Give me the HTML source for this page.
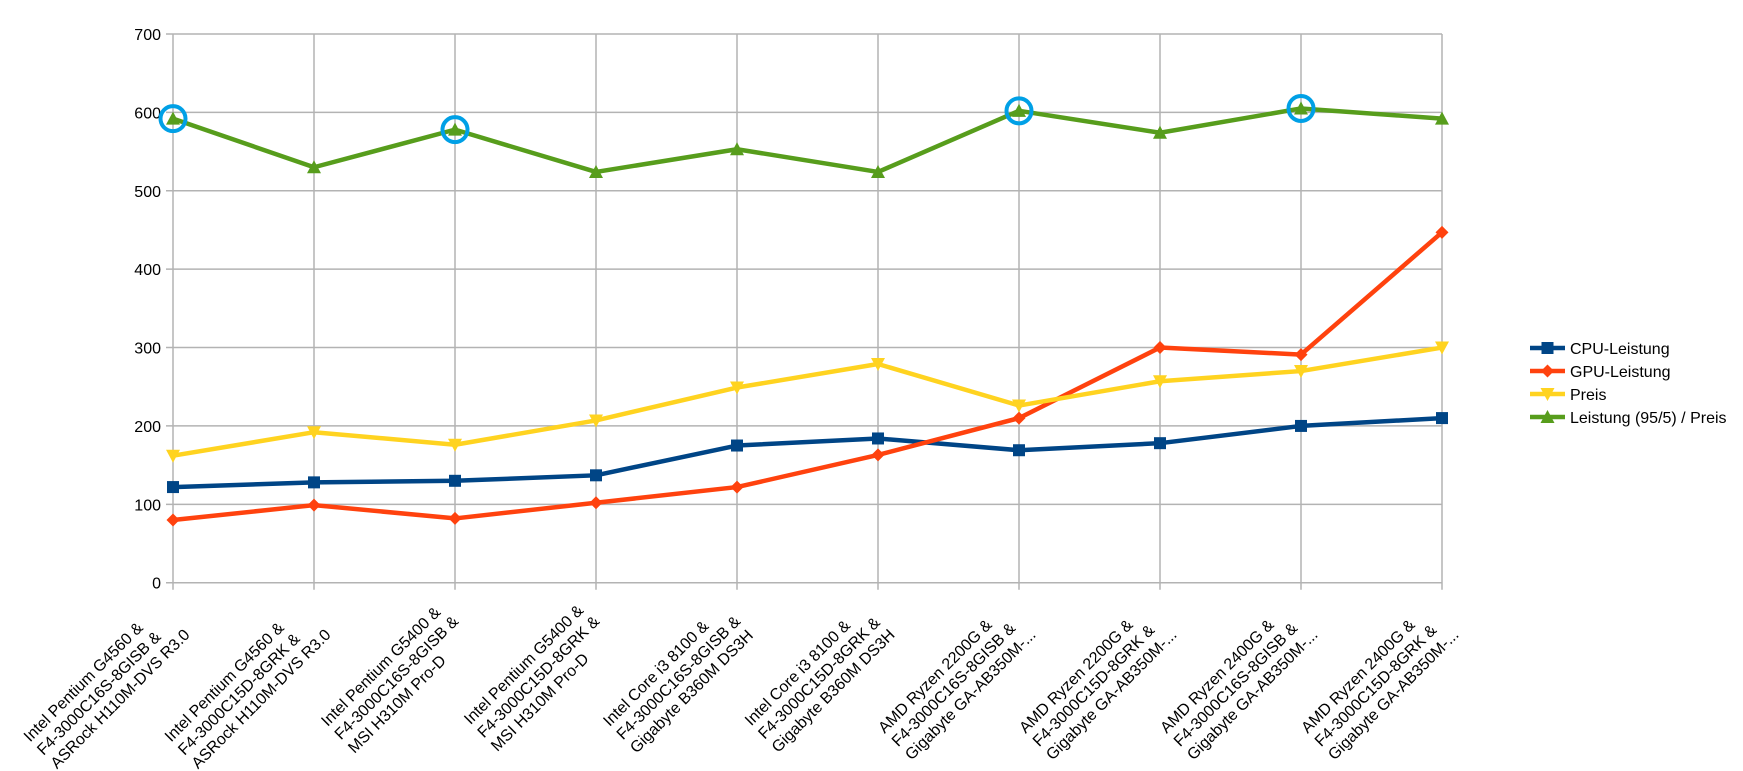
<!DOCTYPE html>
<html><head><meta charset="utf-8"><style>
html,body{margin:0;padding:0;background:#fff;width:1743px;height:771px;overflow:hidden}
svg{display:block;font-family:"Liberation Sans",sans-serif}
</style></head><body>
<svg id="chart" width="1743" height="771" xmlns="http://www.w3.org/2000/svg">
<g id="grid"></g>
<g id="yaxis"></g>
<g id="xaxis"></g>
<g id="series"></g>
<g id="legend"></g>
</svg>
<script>
const categories = [
 ["Intel Pentium G4560 &","F4-3000C16S-8GISB &","ASRock H110M-DVS R3.0"],
 ["Intel Pentium G4560 &","F4-3000C15D-8GRK &","ASRock H110M-DVS R3.0"],
 ["Intel Pentium G5400 &","F4-3000C16S-8GISB &","MSI H310M Pro-D"],
 ["Intel Pentium G5400 &","F4-3000C15D-8GRK &","MSI H310M Pro-D"],
 ["Intel Core i3 8100 &","F4-3000C16S-8GISB &","Gigabyte B360M DS3H"],
 ["Intel Core i3 8100 &","F4-3000C15D-8GRK &","Gigabyte B360M DS3H"],
 ["AMD Ryzen 2200G &","F4-3000C16S-8GISB &","Gigabyte GA-AB350M-..."],
 ["AMD Ryzen 2200G &","F4-3000C15D-8GRK &","Gigabyte GA-AB350M-..."],
 ["AMD Ryzen 2400G &","F4-3000C16S-8GISB &","Gigabyte GA-AB350M-..."],
 ["AMD Ryzen 2400G &","F4-3000C15D-8GRK &","Gigabyte GA-AB350M-..."]
];
const cpuValues = [122,128,130,137,175,184,169,178,200,210];
const gpuValues = [80,99,82,102,122,163,210,300,291,447];
const preisValues = [162,192,176,207,249,279,226,257,270,300];
const leistungValues = [592,530,578,524,553,524,602,574,605,592];
const highlighted = [0,2,6,8];
const yTicks = [0,100,200,300,400,500,600,700];
const seriesNames = ["CPU-Leistung","GPU-Leistung","Preis","Leistung (95/5) / Preis"];

const NS="http://www.w3.org/2000/svg";
const X0=173,X1=1442,Y0=582.7,Y1=34;
const xs=i=>X0+i*(X1-X0)/(categories.length-1);
const ys=v=>Y0-(v-0)*(Y0-Y1)/700;
function el(t,a,p){const e=document.createElementNS(NS,t);for(const k in a)e.setAttribute(k,a[k]);p.appendChild(e);return e;}
const grid=document.getElementById('grid'),yax=document.getElementById('yaxis'),xax=document.getElementById('xaxis'),ser=document.getElementById('series'),leg=document.getElementById('legend');

yTicks.forEach(v=>{
 const y=ys(v);
 const l=el('line',{x1:X0-7,x2:X1,y1:y,y2:y,stroke:'#b3b3b3','stroke-width':1.5},grid);
 
 
 const t=el('text',{x:161,y:y+6,'text-anchor':'end','font-size':16,fill:'#000'},yax);
 t.textContent=v;
 
 
});
categories.forEach((c,i)=>{
 const x=xs(i);
 const l=el('line',{x1:x,x2:x,y1:Y1,y2:Y0+7,stroke:'#b3b3b3','stroke-width':1.5},grid);
 
 
 const g=el('g',{transform:`translate(${x},${Y0}) rotate(-45)`},xax);
 
 
 const ts=c.map((s,k)=>{const t=el('text',{x:0,y:12+k*19,'font-size':16,fill:'#000'},g);t.textContent=s;return t;});
 let w=0;ts.forEach(t=>w=Math.max(w,t.getComputedTextLength()));
 ts.forEach(t=>t.setAttribute('x',-25-w));
});

const colors=['#004586','#ff420e','#ffd320','#579d1c'];
const data=[cpuValues,gpuValues,preisValues,leistungValues];
function marker(k,x,y,p){
 const c=colors[k];let m;
 if(k===0)m=el('rect',{x:x-6,y:y-6,width:12,height:12,fill:c},p);
 else if(k===1)m=el('polygon',{points:`${x},${y-6.5} ${x+6.5},${y} ${x},${y+6.5} ${x-6.5},${y}`,fill:c},p);
 else if(k===2)m=el('polygon',{points:`${x-7},${y-6} ${x+7},${y-6} ${x},${y+7}`,fill:c},p);
 else m=el('polygon',{points:`${x-7},${y+6} ${x+7},${y+6} ${x},${y-7}`,fill:c},p);
 return m;
}
data.forEach((vals,k)=>{
 const g=el('g',{},ser);
 
 
 el('polyline',{points:vals.map((v,i)=>xs(i)+','+ys(v)).join(' '),fill:'none',stroke:colors[k],'stroke-width':4.5,'stroke-linejoin':'round'},g);
 vals.forEach((v,i)=>{
  const m=marker(k,xs(i),ys(v),g);
  
  
 });
});
highlighted.forEach(i=>{
 const c=el('circle',{cx:xs(i),cy:ys(leistungValues[i]),r:12.5,fill:'none',stroke:'#00a0e6','stroke-width':4},ser);
 
 
});
seriesNames.forEach((n,k)=>{
 const y=348+k*23;
 const g=el('g',{},leg);
 
 
 el('line',{x1:1530,x2:1565,y1:y,y2:y,stroke:colors[k],'stroke-width':4.5},g);
 marker(k,1547.5,y,g);
 const t=el('text',{x:1570,y:y+6,'font-size':16,fill:'#000'},g);
 t.textContent=n;
});
</script>
</body></html>
